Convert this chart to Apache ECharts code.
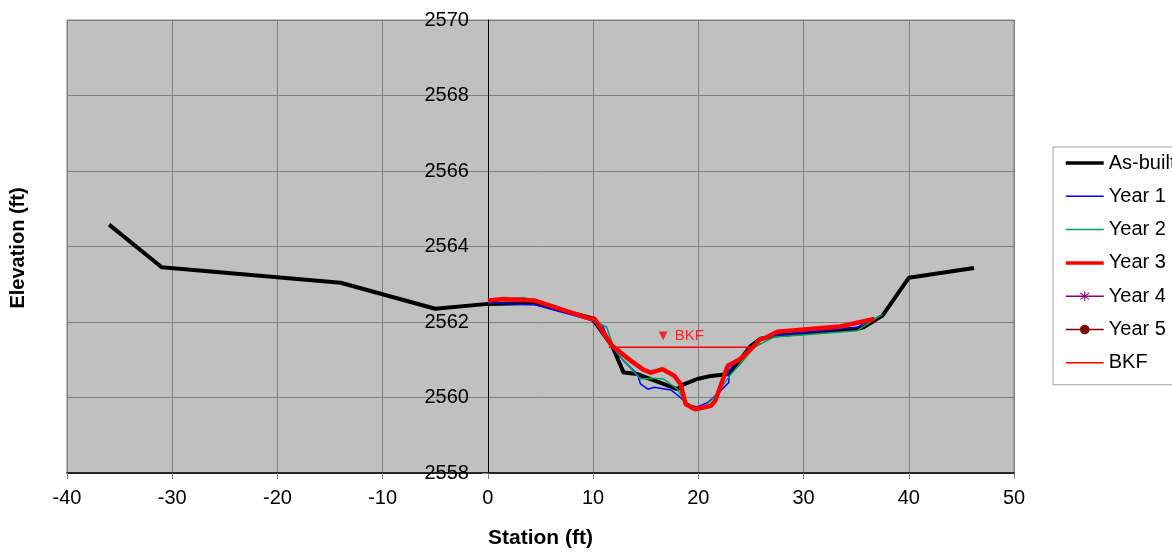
<!DOCTYPE html>
<html>
<head>
<meta charset="utf-8">
<script src="https://cdn.jsdelivr.net/npm/echarts@6/dist/echarts.min.js"></script>
<style>
html,body{margin:0;padding:0;background:#fff;}
#chart{width:1172px;height:552px;}
</style>
</head>
<body>
<div id="chart"></div>
<script>
// ---- data (station ft, elevation ft) ----
const asBuiltStation = [-36.0, -31.0, -14.0, -5.0, 0, 4.4, 9.9, 11.8, 12.9, 14.2, 18.0, 18.6, 19.9, 21.0, 22.9, 25.0, 25.9, 27.2, 35.1, 35.7, 37.5, 40.0, 46.2];
const asBuiltElev    = [2564.58, 2563.45, 2563.04, 2562.35, 2562.48, 2562.50, 2562.10, 2561.37, 2560.66, 2560.62, 2560.22, 2560.35, 2560.49, 2560.56, 2560.62, 2561.37, 2561.55, 2561.64, 2561.82, 2561.86, 2562.17, 2563.17, 2563.43];

const year1Station = [0, 4.4, 9.75, 10.9, 11.8, 12.9, 14.2, 14.5, 15.2, 15.8, 17.4, 18.3, 19.0, 19.9, 20.9, 21.8, 22.9, 22.9, 23.5, 25.0, 25.9, 27.2, 35.1, 36.7];
const year1Elev    = [2562.50, 2562.46, 2562.05, 2561.90, 2561.33, 2560.97, 2560.62, 2560.36, 2560.22, 2560.27, 2560.20, 2560.00, 2559.81, 2559.75, 2559.87, 2560.09, 2560.40, 2560.70, 2560.92, 2561.28, 2561.50, 2561.64, 2561.86, 2562.12];

const year2Station = [0, 3.4, 4.4, 9.75, 11.3, 12.0, 13.2, 14.5, 15.5, 16.7, 18.0, 18.8, 19.7, 20.5, 21.5, 23.1, 24.0, 25.3, 27.2, 35.1, 37.5];
const year2Elev    = [2562.53, 2562.65, 2562.55, 2562.08, 2561.86, 2561.28, 2560.89, 2560.49, 2560.51, 2560.49, 2560.22, 2559.87, 2559.73, 2559.75, 2560.00, 2560.62, 2560.89, 2561.33, 2561.60, 2561.77, 2562.21];

const year3Station = [0, 1.5, 4.4, 9.75, 10.1, 11.8, 13.6, 14.8, 15.5, 16.6, 17.7, 18.3, 18.8, 19.7, 21.2, 21.6, 22.8, 24.0, 25.0, 25.9, 26.4, 27.5, 33.5, 36.7];
const year3Elev    = [2562.57, 2562.61, 2562.57, 2562.08, 2562.10, 2561.37, 2560.97, 2560.73, 2560.66, 2560.75, 2560.58, 2560.36, 2559.82, 2559.69, 2559.78, 2559.91, 2560.84, 2561.02, 2561.28, 2561.55, 2561.58, 2561.74, 2561.88, 2562.08];

const year4Station = [];
const year4Elev    = [];
const year5Station = [];
const year5Elev    = [];

const bkfStation = [11.5, 25.0];
const bkfElev    = [2561.33, 2561.33];

const legendNames = ['As-built', 'Year 1', 'Year 2', 'Year 3', 'Year 4', 'Year 5', 'BKF'];
const legendWithMarker = ['Year 4', 'Year 5'];
const xTicks = {min: -40, max: 50, step: 10};
const yTicks = {min: 2558, max: 2570, step: 2};

const zip = (xs, ys) => xs.map((x, i) => [x, ys[i]]);
const bkfMid = [(bkfStation[0] + bkfStation[1]) / 2, bkfElev[0]];

const FONT = 'Liberation Sans, Arial, sans-serif';
const asterisk = 'path://M4.5,0 L5.5,0 L5.5,10 L4.5,10 Z M0.6,1.9 L1.3,1.2 L9.4,8.1 L8.7,8.8 Z M8.7,1.2 L9.4,1.9 L1.3,8.8 L0.6,8.1 Z';

const GRID = {left: 67, right: 158, top: 20, bottom: 79};
const plotWidth = 1172 - GRID.left - GRID.right;
// shift the y-axis so it sits at station 0
const yAxisShift = plotWidth * (0 - xTicks.min) / (xTicks.max - xTicks.min);

const series = [
  {name: 'As-built', type: 'line', data: zip(asBuiltStation, asBuiltElev), symbol: 'none',
   lineStyle: {color: '#000', width: 4}, itemStyle: {color: '#000'}, z: 2},
  {name: 'Year 1', type: 'line', data: zip(year1Station, year1Elev), symbol: 'none',
   lineStyle: {color: '#0000ff', width: 1.5}, itemStyle: {color: '#0000ff'}, z: 3},
  {name: 'Year 2', type: 'line', data: zip(year2Station, year2Elev), symbol: 'none',
   lineStyle: {color: '#00a060', width: 1.5}, itemStyle: {color: '#00a060'}, z: 4},
  {name: 'Year 3', type: 'line', data: zip(year3Station, year3Elev), symbol: 'none',
   lineStyle: {color: '#ff0000', width: 4.5}, itemStyle: {color: '#ff0000'}, z: 5},
  {name: 'Year 4', type: 'line', data: zip(year4Station, year4Elev), symbol: asterisk, symbolSize: 11,
   lineStyle: {color: '#800080', width: 1.5}, itemStyle: {color: '#800080'}, z: 6},
  {name: 'Year 5', type: 'line', data: zip(year5Station, year5Elev), symbol: 'circle', symbolSize: 10,
   lineStyle: {color: '#800000', width: 1.5}, itemStyle: {color: '#800000'}, z: 7},
  {name: 'BKF', type: 'line', data: zip(bkfStation, bkfElev), symbol: 'none',
   lineStyle: {color: '#ff0000', width: 1.5}, itemStyle: {color: '#ff0000'}, z: 8},
  {name: 'BKF label', type: 'scatter', data: [bkfMid], symbolSize: 1,
   itemStyle: {color: 'rgba(0,0,0,0)'}, silent: true, z: 9,
   label: {show: true, position: 'top', distance: 3, formatter: '▼ BKF',
           fontFamily: FONT, fontSize: 15, color: '#ff0000'}}
];

const legendData = legendNames.map(n => {
  const s = series.find(x => x.name === n);
  const item = {name: n, lineStyle: {color: s.lineStyle.color, width: Math.min(s.lineStyle.width, 3.5)}};
  if (!legendWithMarker.includes(n)) item.itemStyle = {opacity: 0};
  return item;
});

const chart = echarts.init(document.getElementById('chart'), null, {renderer: 'canvas'});
chart.setOption({
  animation: false,
  textStyle: {fontFamily: FONT},
  grid: Object.assign({
    show: true, backgroundColor: '#c0c0c0', borderColor: '#808080', borderWidth: 1,
    containLabel: false, outerBoundsMode: 'none'
  }, GRID),
  xAxis: {
    type: 'value', min: xTicks.min, max: xTicks.max, interval: xTicks.step,
    name: 'Station (ft)', nameLocation: 'middle', nameGap: 55,
    nameTextStyle: {fontFamily: FONT, fontSize: 21, fontWeight: 'bold', color: '#000'},
    axisLine: {onZero: false, lineStyle: {color: '#000', width: 1.5}},
    axisTick: {show: true, length: 6, lineStyle: {color: '#808080'}},
    axisLabel: {fontFamily: FONT, fontSize: 20, color: '#000', margin: 15, formatter: v => String(v)},
    splitLine: {show: true, lineStyle: {color: '#808080', width: 1}}
  },
  yAxis: {
    type: 'value', min: yTicks.min, max: yTicks.max, interval: yTicks.step,
    position: 'left', offset: -yAxisShift,
    axisLine: {show: true, onZero: false, lineStyle: {color: '#000', width: 1}},
    axisTick: {show: true, length: 6, lineStyle: {color: '#808080'}},
    axisLabel: {fontFamily: FONT, fontSize: 20, color: '#000', margin: 19,
                showMinLabel: true, showMaxLabel: true, formatter: v => String(v)},
    splitLine: {show: true, lineStyle: {color: '#808080', width: 1}}
  },
  graphic: [{
    type: 'text', x: 18, y: 248, rotation: Math.PI / 2,
    style: {text: 'Elevation (ft)', font: 'bold 20px ' + FONT, fill: '#000', align: 'center', verticalAlign: 'middle'}
  }],
  legend: {
    orient: 'vertical', left: 1053, top: 147,
    data: legendData,
    padding: [6, 60, 12, 11],
    itemWidth: 38, itemHeight: 12, itemGap: 13.3, itemTextGap: 3,
    borderColor: '#a0a0a0', borderWidth: 1, backgroundColor: '#fff',
    textStyle: {fontFamily: FONT, fontSize: 20, color: '#000', lineHeight: 20}
  },
  series: series
});
</script>
</body>
</html>
